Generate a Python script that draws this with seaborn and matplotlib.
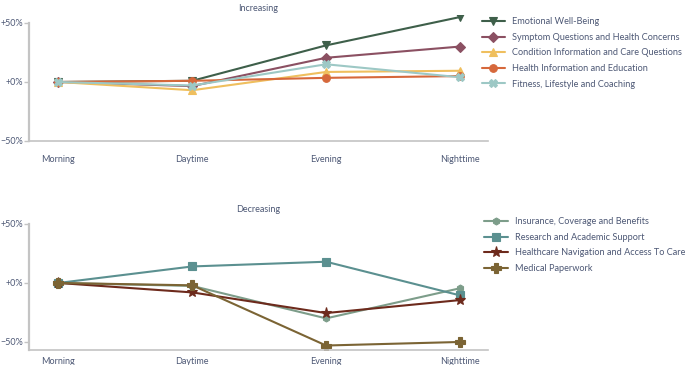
import matplotlib
matplotlib.use("Agg")
import matplotlib.pyplot as plt
import seaborn as sns
import pandas as pd

times = ["Morning", "Daytime", "Evening", "Nighttime"]

inc_names = ["Emotional Well-Being", "Symptom Questions and Health Concerns",
             "Condition Information and Care Questions", "Health Information and Education",
             "Fitness, Lifestyle and Coaching"]
emotional = [0, 1, 31, 55]
symptom = [0, -3.5, 20.5, 30]
condition = [0, -7, 8.5, 9.5]
health_info = [0, 1, 3.5, 5]
fitness = [0, -3, 15, 4]

dec_names = ["Insurance, Coverage and Benefits", "Research and Academic Support",
             "Healthcare Navigation and Access To Care", "Medical Paperwork"]
insurance = [0, -2.5, -30, -4.5]
research = [0, 14, 18, -10.5]
navigation = [0, -8, -25.5, -14.5]
paperwork = [0, -2, -53, -50]

inc_colors = ["#3e5f4a", "#8b5062", "#efbf5e", "#d6683b", "#9dc8c5"]
inc_markers = ["v", "D", "^", "o", "X"]
dec_colors = ["#7d9d8a", "#5b9090", "#6d2a1c", "#7b6434"]
dec_markers = ["h", "s", "*", "P"]

text_color = "#4d5875"
spine_color = "#c4c4c4"
marker_sizes = {"v": 5.5, "D": 5, "^": 5.5, "o": 5.5, "X": 6, "h": 5, "s": 5.5, "*": 8, "P": 6.5}

def long_df(names, series):
    rows = []
    for n, vals in zip(names, series):
        for t, v in zip(times, vals):
            rows.append({"time": t, "value": v, "series": n})
    return pd.DataFrame(rows)

sns.set_style("white")
plt.rcParams["font.family"] = ["Lato", "DejaVu Sans"]

fig = plt.figure(figsize=(6.85, 3.65), dpi=100)
ax1 = fig.add_axes([29/685, 224/365, 459/685, (350.3-224)/365])
ax2 = fig.add_axes([29/685, 15/365, 459/685, (149.3-15)/365])

def fix_line(ln):
    m = ln.get_marker()
    ln.set_markeredgecolor(ln.get_color())
    ln.set_markeredgewidth(0.8)
    if m in marker_sizes:
        ln.set_markersize(marker_sizes[m])

def draw(ax, names, series, colors, markers, ylim, title, xpad, leg_anchor):
    df = long_df(names, series)
    sns.lineplot(data=df, x="time", y="value", hue="series", style="series",
                 palette=dict(zip(names, colors)), markers=dict(zip(names, markers)),
                 dashes=False, linewidth=1.5, markersize=5.5,
                 ax=ax, legend=True)
    for ln in ax.lines:
        fix_line(ln)
    ax.set_xlim(-0.22, 3.21)
    ax.set_ylim(*ylim)
    ax.set_yticks([-50, 0, 50])
    ax.set_yticklabels(["\u221250%", "+0%", "+50%"])
    ax.set_xlabel("")
    ax.set_ylabel("")
    for s in ["top", "right"]:
        ax.spines[s].set_visible(False)
    ax.spines["left"].set_bounds(ylim[0], 50)
    ax.spines["left"].set_color(spine_color)
    ax.spines["left"].set_linewidth(1.6)
    ax.spines["bottom"].set_color(spine_color)
    ax.spines["bottom"].set_linewidth(1.2)
    ax.tick_params(axis="y", length=3.5, width=1, color=spine_color, labelsize=6.5,
                   labelcolor=text_color, pad=1, left=True)
    ax.tick_params(axis="x", length=0, labelsize=6.5, labelcolor=text_color, pad=xpad)
    ax.set_title(title, fontsize=6.5, color=text_color, pad=3)
    handles, labels = ax.get_legend_handles_labels()
    ax.get_legend().remove()
    for h in handles:
        fix_line(h)
    fig.legend(handles, labels, loc="upper left", bbox_to_anchor=leg_anchor,
               frameon=False, fontsize=6.6, labelcolor=text_color, borderpad=0,
               borderaxespad=0, handlelength=2.6, handletextpad=0.75, labelspacing=0.72)

draw(ax1, inc_names, [emotional, symptom, condition, health_info, fitness],
     inc_colors, inc_markers, (-50, 57), "Increasing", 10, (0.703, 0.953))
draw(ax2, dec_names, [insurance, research, navigation, paperwork],
     dec_colors, dec_markers, (-56.8, 57), "Decreasing", 5, (0.707, 0.405))

fig.savefig("out.png", dpi=100)
